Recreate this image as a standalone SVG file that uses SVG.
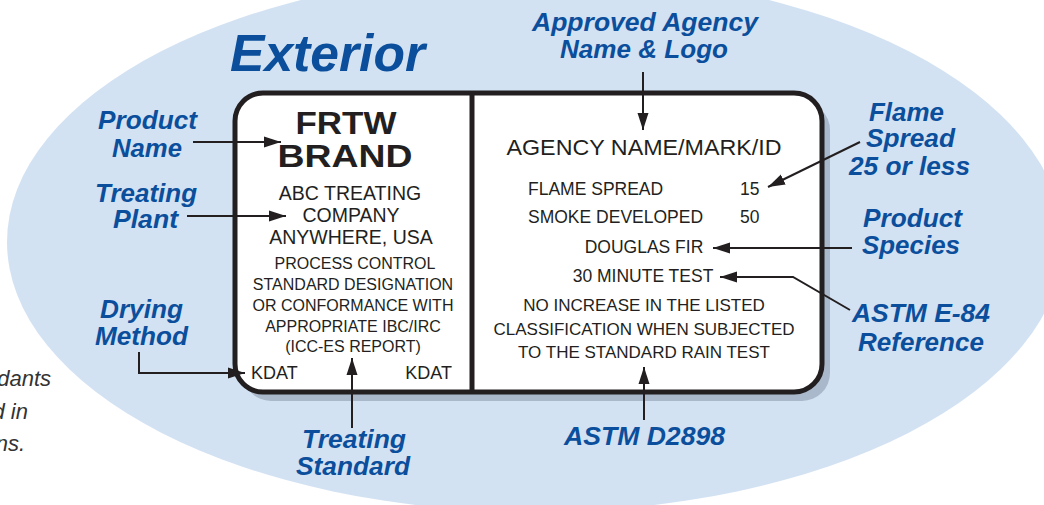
<svg xmlns="http://www.w3.org/2000/svg" width="1044" height="505" viewBox="0 0 1044 505">
<defs>
<marker id="ah" markerUnits="userSpaceOnUse" markerWidth="18" markerHeight="12" refX="17" refY="6" orient="auto">
<path d="M0,0.5 L17,6 L0,11.5 z" fill="#231f20"/>
</marker>
<style>
.lbl{font-family:"Liberation Sans",Arial,sans-serif;font-weight:bold;font-style:italic;fill:#0b4f9c;text-anchor:middle;font-size:25px}
.t{font-family:"Liberation Sans",Arial,sans-serif;fill:#231f20;text-anchor:middle}
.b{font-weight:bold}
.con{fill:none;stroke:#231f20;stroke-width:2;marker-end:url(#ah)}
.note{font-family:"Liberation Sans",Arial,sans-serif;font-style:italic;fill:#333;font-size:22px;text-anchor:end}
</style>
</defs>
<rect width="1044" height="505" fill="#ffffff"/>
<ellipse cx="535" cy="242" rx="528" ry="270" fill="#d3e2f3"/>
<g id="side-note">
<text class="note" x="51" y="386">dants</text>
<text class="note" x="28" y="419">d in</text>
<text class="note" x="25" y="451">ns.</text>
</g>
<text id="title" class="lbl" x="230" y="71" style="font-size:52px;text-anchor:start" textLength="195" lengthAdjust="spacingAndGlyphs">Exterior</text>
<g id="label-card">
<rect x="243" y="102" width="587" height="299" rx="28" fill="#a9b8ca"/>
<rect x="235" y="93" width="587" height="299" rx="28" fill="#ffffff" stroke="#231f20" stroke-width="5"/>
<line x1="472" y1="93" x2="472" y2="392" stroke="#231f20" stroke-width="5"/>
</g>
<g id="left-panel">
<text class="t b" x="346" y="134" style="font-size:31px" textLength="101" lengthAdjust="spacingAndGlyphs">FRTW</text>
<text class="t b" x="345" y="167" style="font-size:31px" textLength="135" lengthAdjust="spacingAndGlyphs">BRAND</text>
<text class="t" x="350" y="200" style="font-size:19.5px">ABC TREATING</text>
<text class="t" x="351" y="222" style="font-size:19.5px">COMPANY</text>
<text class="t" x="351" y="244" style="font-size:19.5px">ANYWHERE, USA</text>
<text class="t" x="355" y="269" style="font-size:16px">PROCESS CONTROL</text>
<text class="t" x="353" y="290" style="font-size:16px">STANDARD DESIGNATION</text>
<text class="t" x="353" y="311" style="font-size:16px">OR CONFORMANCE WITH</text>
<text class="t" x="353" y="332" style="font-size:16px">APPROPRIATE IBC/IRC</text>
<text class="t" x="353" y="352" style="font-size:16px">(ICC-ES REPORT)</text>
<text class="t" x="251" y="379" style="font-size:18px;text-anchor:start">KDAT</text>
<text class="t" x="452" y="379" style="font-size:18px;text-anchor:end">KDAT</text>
</g>
<g id="right-panel">
<text class="t" x="644" y="155" style="font-size:22px" textLength="275" lengthAdjust="spacingAndGlyphs">AGENCY NAME/MARK/ID</text>
<text class="t" x="528" y="195" style="font-size:17.5px;text-anchor:start">FLAME SPREAD</text>
<text class="t" x="740" y="195" style="font-size:17.5px;text-anchor:start">15</text>
<text class="t" x="528" y="223" style="font-size:17.5px;text-anchor:start">SMOKE DEVELOPED</text>
<text class="t" x="740" y="223" style="font-size:17.5px;text-anchor:start">50</text>
<text class="t" x="644" y="253" style="font-size:17.5px">DOUGLAS FIR</text>
<text class="t" x="643" y="282" style="font-size:17.5px">30 MINUTE TEST</text>
<text class="t" x="644" y="311" style="font-size:17px">NO INCREASE IN THE LISTED</text>
<text class="t" x="644" y="335" style="font-size:17px">CLASSIFICATION WHEN SUBJECTED</text>
<text class="t" x="644" y="358" style="font-size:17px">TO THE STANDARD RAIN TEST</text>
</g>
<g id="connectors">
<path class="con" d="M643,72 V130"/>
<path class="con" d="M860,142 L768,187"/>
<path class="con" d="M852,248 H713"/>
<path class="con" d="M850,310 L793,277 H720"/>
<path class="con" d="M644,420 V367"/>
<path class="con" d="M193,142 H281"/>
<path class="con" d="M187,216 H286"/>
<path class="con" d="M139,352 V373 H245"/>
<path class="con" d="M352,428 V358"/>
</g>
<g id="lbl-agency">
<text class="lbl" x="645" y="31" textLength="226" lengthAdjust="spacingAndGlyphs">Approved Agency</text>
<text class="lbl" x="644" y="58" textLength="168" lengthAdjust="spacingAndGlyphs">Name &amp; Logo</text>
</g>
<g id="lbl-product-name">
<text class="lbl" x="147.5" y="129" textLength="99" lengthAdjust="spacingAndGlyphs">Product</text>
<text class="lbl" x="147" y="157" textLength="70" lengthAdjust="spacingAndGlyphs">Name</text>
</g>
<g id="lbl-treating-plant">
<text class="lbl" x="146" y="202" textLength="102" lengthAdjust="spacingAndGlyphs">Treating</text>
<text class="lbl" x="145.5" y="228" textLength="65" lengthAdjust="spacingAndGlyphs">Plant</text>
</g>
<g id="lbl-drying">
<text class="lbl" x="141.5" y="318" textLength="83" lengthAdjust="spacingAndGlyphs">Drying</text>
<text class="lbl" x="141.5" y="345" textLength="93" lengthAdjust="spacingAndGlyphs">Method</text>
</g>
<g id="lbl-flame">
<text class="lbl" x="906.5" y="121" textLength="75" lengthAdjust="spacingAndGlyphs">Flame</text>
<text class="lbl" x="910.5" y="147" textLength="89" lengthAdjust="spacingAndGlyphs">Spread</text>
<text class="lbl" x="909.5" y="175" textLength="121" lengthAdjust="spacingAndGlyphs">25 or less</text>
</g>
<g id="lbl-species">
<text class="lbl" x="912.5" y="227" textLength="99" lengthAdjust="spacingAndGlyphs">Product</text>
<text class="lbl" x="911" y="254" textLength="98" lengthAdjust="spacingAndGlyphs">Species</text>
</g>
<g id="lbl-e84">
<text class="lbl" x="921" y="322" textLength="138" lengthAdjust="spacingAndGlyphs">ASTM E-84</text>
<text class="lbl" x="921" y="351" textLength="126" lengthAdjust="spacingAndGlyphs">Reference</text>
</g>
<g id="lbl-treating-standard">
<text class="lbl" x="354" y="448" textLength="104" lengthAdjust="spacingAndGlyphs">Treating</text>
<text class="lbl" x="353" y="475" textLength="114" lengthAdjust="spacingAndGlyphs">Standard</text>
</g>
<g id="lbl-d2898">
<text class="lbl" x="644.5" y="445" textLength="161" lengthAdjust="spacingAndGlyphs">ASTM D2898</text>
</g>
</svg>
